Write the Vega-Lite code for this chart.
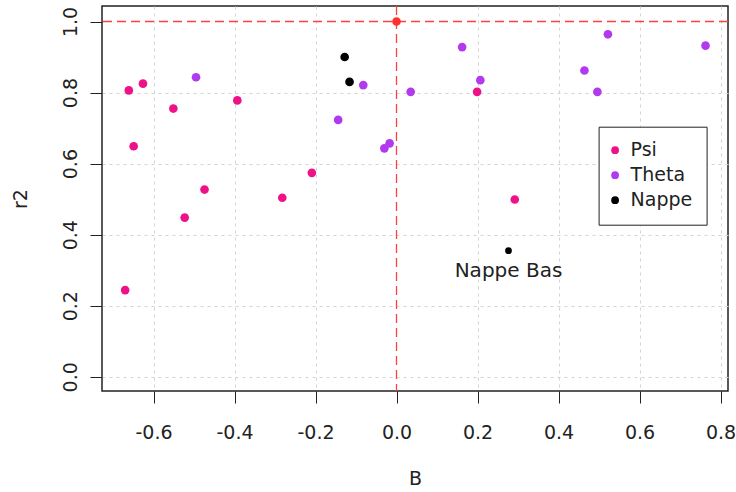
{
  "$schema": "https://vega.github.io/schema/vega-lite/v6.json",
  "width": 626,
  "height": 385,
  "autosize": "none",
  "padding": {"left": 102, "top": 6, "right": 8, "bottom": 101},
  "background": "white",
  "config": {
    "font": "DejaVu Sans",
    "view": {"stroke": "#222222", "strokeWidth": 1.5},
    "axis": {
      "domain": false,
      "ticks": true,
      "tickSize": 12,
      "tickColor": "#222222",
      "tickWidth": 1,
      "labelFontSize": 19,
      "labelColor": "#222222",
      "labelFont": "DejaVu Sans",
      "labelFlush": false,
      "labelOverlap": false,
      "labelBound": false,
      "grid": true,
      "gridColor": "#D3D3D3",
      "gridDash": [3, 4],
      "gridWidth": 1,
      "titleFontSize": 19,
      "titleFontWeight": "normal",
      "titleColor": "#222222",
      "titleFont": "DejaVu Sans"
    }
  },
  "datasets": {
    "pts": [
      {"B": -0.661, "r2": 0.806, "serie": "Psi"},
      {"B": -0.626, "r2": 0.825, "serie": "Psi"},
      {"B": -0.551, "r2": 0.755, "serie": "Psi"},
      {"B": -0.393, "r2": 0.778, "serie": "Psi"},
      {"B": -0.649, "r2": 0.649, "serie": "Psi"},
      {"B": -0.209, "r2": 0.574, "serie": "Psi"},
      {"B": -0.474, "r2": 0.527, "serie": "Psi"},
      {"B": -0.282, "r2": 0.504, "serie": "Psi"},
      {"B": -0.523, "r2": 0.448, "serie": "Psi"},
      {"B": -0.670, "r2": 0.244, "serie": "Psi"},
      {"B": 0.199, "r2": 0.802, "serie": "Psi"},
      {"B": 0.292, "r2": 0.499, "serie": "Psi"},
      {"B": -0.495, "r2": 0.843, "serie": "Theta"},
      {"B": -0.082, "r2": 0.821, "serie": "Theta"},
      {"B": 0.035, "r2": 0.802, "serie": "Theta"},
      {"B": -0.144, "r2": 0.723, "serie": "Theta"},
      {"B": -0.030, "r2": 0.643, "serie": "Theta"},
      {"B": -0.017, "r2": 0.657, "serie": "Theta"},
      {"B": 0.162, "r2": 0.928, "serie": "Theta"},
      {"B": 0.522, "r2": 0.964, "serie": "Theta"},
      {"B": 0.763, "r2": 0.932, "serie": "Theta"},
      {"B": 0.464, "r2": 0.862, "serie": "Theta"},
      {"B": 0.207, "r2": 0.835, "serie": "Theta"},
      {"B": 0.496, "r2": 0.802, "serie": "Theta"},
      {"B": -0.128, "r2": 0.900, "serie": "Nappe"},
      {"B": -0.116, "r2": 0.830, "serie": "Nappe"}
    ],
    "bas": [
      {"B": 0.2765, "r2": 0.355, "label": "Nappe Bas"}
    ],
    "ref": [
      {"B": 0, "r2": 1}
    ]
  },
  "layer": [
    {
      "data": {"name": "pts"},
      "mark": {"type": "point", "shape": "circle", "filled": true, "opacity": 1, "size": 75, "strokeWidth": 0},
      "encoding": {
        "x": {
          "field": "B", "type": "quantitative",
          "scale": {"domain": [-0.72717, 0.8185], "nice": false, "zero": false},
          "axis": {
            "values": [-0.6, -0.4, -0.2, 0, 0.2, 0.4, 0.6, 0.8],
            "labelExpr": "datum.value < 0 ? '-' + format(-datum.value, '.1f') : format(datum.value, '.1f')",
            "labelBaseline": "middle",
            "labelPadding": 29,
            "gridOpacity": {"condition": {"test": "abs(datum.value) < 0.001", "value": 0}, "value": 1},
            "title": "B",
            "titleX": 313,
            "titleY": 87,
            "titleBaseline": "middle",
            "titleAlign": "center"
          }
        },
        "y": {
          "field": "r2", "type": "quantitative",
          "scale": {"domain": [-0.04, 1.04366], "nice": false, "zero": false},
          "axis": {
            "values": [0, 0.2, 0.4, 0.6, 0.8, 1.0],
            "format": ".1f",
            "labelAngle": -90,
            "labelAlign": "center",
            "labelBaseline": "middle",
            "labelPadding": 20,
            "gridOpacity": {"condition": {"test": "abs(datum.value - 1) < 0.001", "value": 0}, "value": 1},
            "title": "r2",
            "titleAngle": -90,
            "titleX": -82,
            "titleY": 192.5,
            "titleAlign": "center",
            "titleBaseline": "middle"
          }
        },
        "color": {
          "field": "serie", "type": "nominal",
          "scale": {"domain": ["Psi", "Theta", "Nappe"], "range": ["#EE1289", "#B23AEE", "#000000"]},
          "legend": {
            "title": null,
            "orient": "none",
            "legendX": 496.6,
            "legendY": 120.7,
            "strokeColor": "#222222",
            "fillColor": "white",
            "padding": 14,
            "rowPadding": 5,
            "symbolType": "circle",
            "symbolSize": 60,
            "symbolStrokeWidth": 0,
            "symbolOffset": -7,
            "labelOffset": 6,
            "labelFontSize": 19,
            "labelColor": "#222222",
            "labelFont": "DejaVu Sans",
            "encode": {"legend": {"update": {"strokeWidth": {"value": 1.5}}}}
          }
        }
      }
    },
    {
      "data": {"name": "ref"},
      "mark": {"type": "rule", "color": "#FF4040", "strokeDash": [9, 5], "strokeWidth": 1.3},
      "encoding": {"y": {"field": "r2", "type": "quantitative"}}
    },
    {
      "data": {"name": "ref"},
      "mark": {"type": "rule", "color": "#FF4040", "strokeDash": [9, 5], "strokeWidth": 1.3},
      "encoding": {"x": {"field": "B", "type": "quantitative"}}
    },
    {
      "data": {"name": "bas"},
      "mark": {"type": "point", "shape": "circle", "filled": true, "opacity": 1, "size": 45, "color": "#000000", "strokeWidth": 0},
      "encoding": {
        "x": {"field": "B", "type": "quantitative"},
        "y": {"field": "r2", "type": "quantitative"}
      }
    },
    {
      "data": {"name": "bas"},
      "mark": {"type": "text", "dy": 20, "fontSize": 20, "color": "#222222", "baseline": "middle", "align": "center", "font": "DejaVu Sans"},
      "encoding": {
        "x": {"field": "B", "type": "quantitative"},
        "y": {"field": "r2", "type": "quantitative"},
        "text": {"field": "label"}
      }
    },
    {
      "data": {"name": "ref"},
      "mark": {"type": "point", "shape": "circle", "filled": true, "opacity": 1, "size": 75, "color": "#FF3030", "strokeWidth": 0},
      "encoding": {
        "x": {"field": "B", "type": "quantitative"},
        "y": {"field": "r2", "type": "quantitative"}
      }
    }
  ]
}
